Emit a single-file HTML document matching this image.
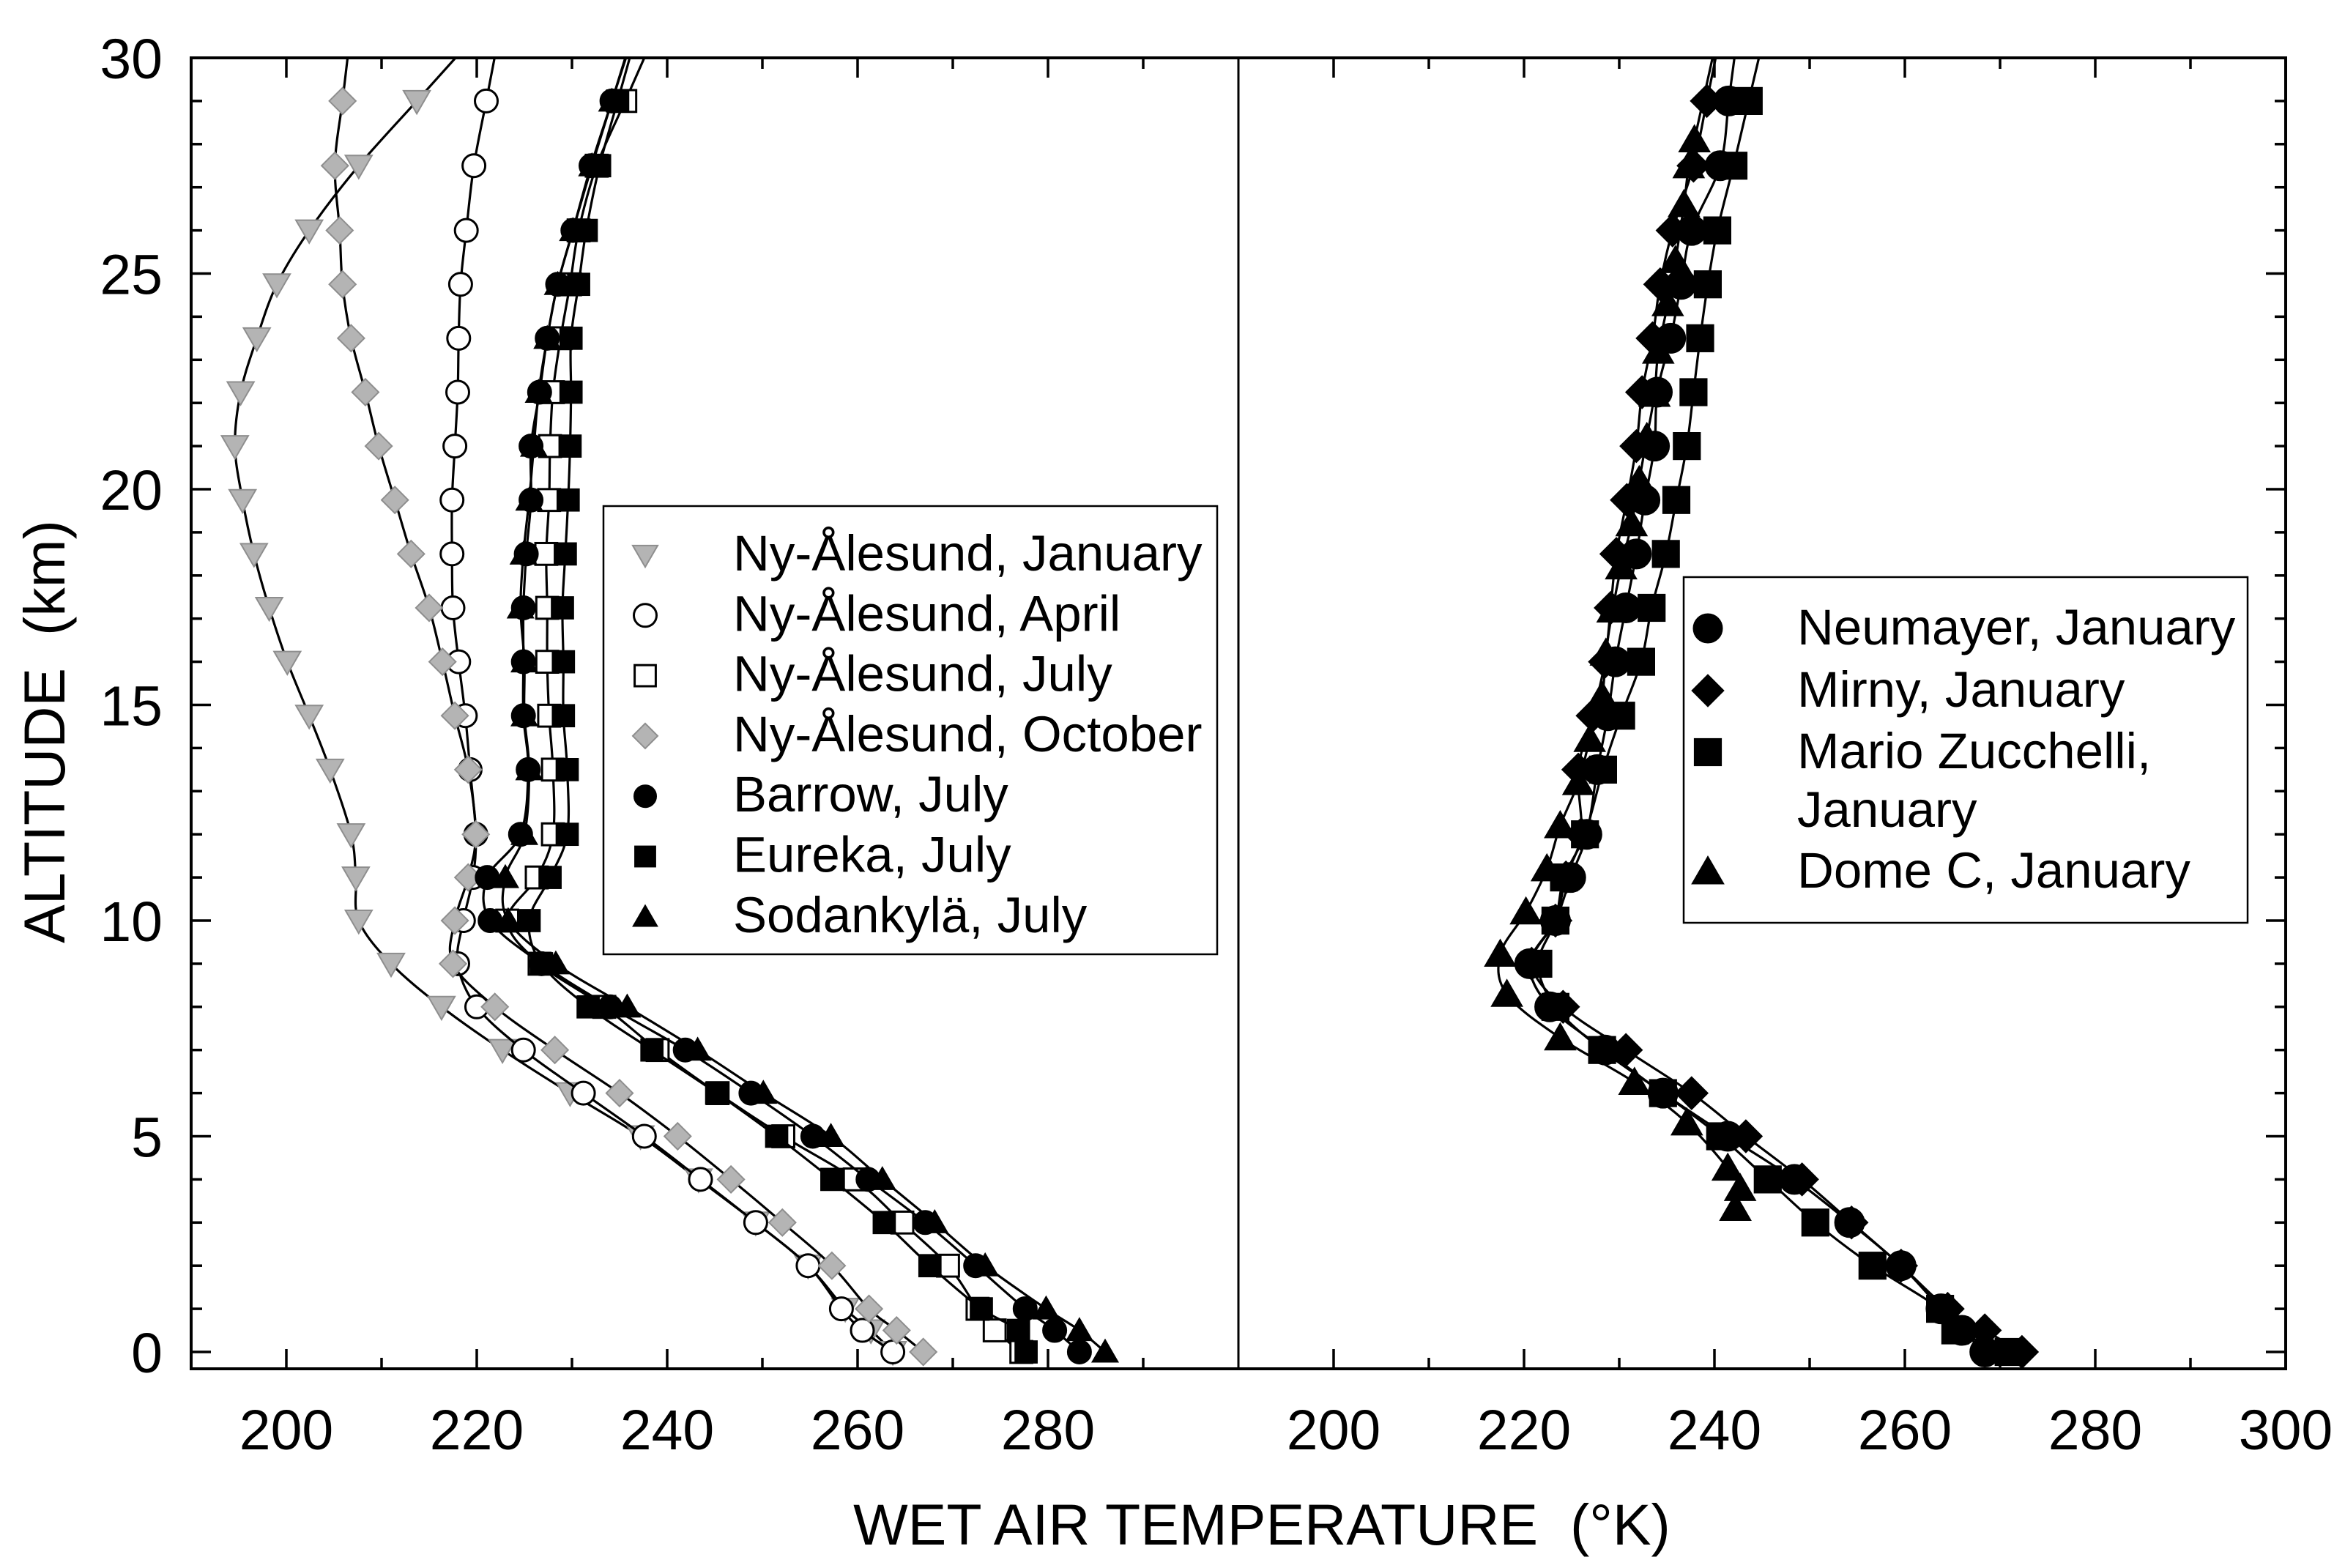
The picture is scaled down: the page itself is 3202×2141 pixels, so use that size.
<!DOCTYPE html>
<html><head><meta charset="utf-8"><style>
html,body{margin:0;padding:0;background:#fff}
svg{display:block}
text{font-family:"Liberation Sans",Arial,sans-serif;fill:#000;white-space:pre}
</style></head><body>
<svg id="chart" width="3202" height="2141" viewBox="0 0 3202 2141" xmlns="http://www.w3.org/2000/svg" xml:space="preserve">
<rect x="0" y="0" width="3202" height="2141" fill="#fff"/>
<g id="plot"></g>
<g id="axes"></g>
<text x="1723" y="2109" font-size="79" text-anchor="middle">WET AIR TEMPERATURE&#160;&#160;(°K)</text>
<text x="0" y="0" font-size="79" text-anchor="middle" transform="translate(88,999) rotate(-90)">ALTITUDE&#160;&#160;(km)</text>
<g id="legendL"></g>
<g id="legendR"></g>
</svg>
<script>
// ---- data ----
const altStd = [0,0.5,1,2,3,4,5,6,7,8,9,10,11,12,13.5,14.75,16,17.25,18.5,19.75,21,22.25,23.5,24.75,26,27.5,29];
const nyJan = [263.7,261.4,258.7,254.8,249.3,243.3,237.2,229.8,222.7,216.3,211,207.6,207.3,206.8,204.6,202.4,200.1,198.2,196.6,195.4,194.6,195.2,196.9,199,202.4,207.6,213.7];
const nyApr = [263.7,260.5,258.3,254.8,249.3,243.5,237.6,231.2,224.9,220,218,218.6,219.6,219.9,219.3,218.8,218.1,217.5,217.4,217.4,217.7,218,218.1,218.3,218.9,219.7,221];
const nyJul = [277.2,274.4,272.6,269.5,264.7,259.7,252.2,245.3,239,233.4,226.6,223.2,226.3,228,228,227.6,227.4,227.4,227.3,227.6,227.7,228,228.8,229.8,230.7,232.6,235.6];
const nyOct = [266.9,264.1,261.2,257.3,252.1,246.7,241.1,235,228.2,221.9,217.5,217.7,219.1,219.9,219.1,217.7,216.4,215,213.1,211.4,209.7,208.3,206.8,205.9,205.6,205.1,205.9];
const barrow = [283.3,280.7,277.6,272.4,267.1,261.1,255.3,248.8,241.9,234,226.8,221.4,221.1,224.6,225.4,224.9,224.9,224.9,225.2,225.7,225.7,226.6,227.4,228.5,230.1,232,234.2];
const eureka = [277.7,276.9,273,267.6,262.8,257.3,251.5,245.2,238.4,231.7,226.8,225.5,227.7,229.5,229.5,229.1,229.1,229,229.3,229.6,229.8,229.9,229.9,230.7,231.5,232.9,234.8];
const sodan = [286,283.3,279.8,273.4,268.1,262.6,257.2,250.1,243.2,235.8,228.3,223.3,223,225,225.5,225,225,224.6,224.9,225.5,226,226.5,227.4,228.5,230.1,232.1,234.2];
const neumayer = [268.4,266,263.8,259.6,254.2,248.4,241.4,234.6,228.5,222.7,220.6,223.3,224.9,226.6,227.7,228.8,229.6,230.7,231.8,232.7,233.7,234,235.4,236.5,237.6,240.6,241.5];
const mirny = [272.3,268.4,264.5,259.6,254.4,249.2,243.3,237.6,230.7,224.1,220.8,223.3,224.4,226,225.7,227.2,228.5,229.1,229.7,230.8,231.8,232.4,233.5,234.3,235.6,237.8,239.2];
const mzuc = [270.9,265.3,263.7,256.6,250.6,245.6,240.6,234.6,228.2,223.3,221.5,223.3,224.2,226.4,228.3,230.2,232.3,233.4,234.9,236,237.1,237.8,238.5,239.3,240.3,242,243.6];
const altDome = [3.33,3.79,4.26,5.31,6.25,7.28,8.29,9.22,10.2,11.2,12.2,13.2,14.2,15.2,16.2,17.2,18.2,19.2,20.2,21.2,22.2,23.2,24.3,25.3,26.6,27.5,28.1];
const domeC = [242.2,242.7,241.4,237.1,231.6,223.8,218.2,217.5,220.2,222.4,223.8,225.7,226.9,228.2,228.6,229.3,230.2,231.3,232.1,232.9,233.7,234.1,235.1,235.9,236.8,237.3,237.9];
const xTicksL = [200,220,240,260,280];
const xTicksR = [200,220,240,260,280,300];
const yTicks = [0,5,10,15,20,25,30];

// ---- scales ----
const X0L=261, X0R=1691, KX=13.0, TOP=79, BOT=1869, Y0=1846, KY=58.9;
const xL = k => X0L + (k-190)*KX;
const xR = k => X0R + (k-190)*KX;
const yA = a => Y0 - a*KY;
const NS='http://www.w3.org/2000/svg';
function mk(tag, attrs, parent){const e=document.createElementNS(NS,tag);for(const k in attrs)e.setAttribute(k,attrs[k]);parent.appendChild(e);return e;}
const plot=document.getElementById('plot'), axes=document.getElementById('axes');

const defs=mk('defs',{},document.getElementById('chart'));
const cl=mk('clipPath',{id:'clipL'},defs); mk('rect',{x:X0L,y:TOP,width:1430,height:BOT-TOP},cl);
const cr=mk('clipPath',{id:'clipR'},defs); mk('rect',{x:X0R,y:TOP,width:1430,height:BOT-TOP},cr);

function spline(pts){
  let d='M'+pts[0][0].toFixed(1)+','+pts[0][1].toFixed(1);
  for(let i=0;i<pts.length-1;i++){
    const p0=pts[Math.max(0,i-1)],p1=pts[i],p2=pts[i+1],p3=pts[Math.min(pts.length-1,i+2)];
    const c1=[p1[0]+(p2[0]-p0[0])/6,p1[1]+(p2[1]-p0[1])/6];
    const c2=[p2[0]-(p3[0]-p1[0])/6,p2[1]-(p3[1]-p1[1])/6];
    d+=' C'+c1.map(v=>v.toFixed(1)).join(',')+' '+c2.map(v=>v.toFixed(1)).join(',')+' '+p2[0].toFixed(1)+','+p2[1].toFixed(1);
  }
  return d;
}
function marker(g, shape, cx, cy, s, style){
  let e;
  const h=s/2;
  if(shape==='circle') e=mk('circle',{cx:cx,cy:cy,r:h},g);
  else if(shape==='square') e=mk('rect',{x:cx-h*0.93,y:cy-h*0.93,width:s*0.93,height:s*0.93},g);
  else if(shape==='diamond') e=mk('polygon',{points:`${cx},${cy-h*1.1} ${cx+h*1.1},${cy} ${cx},${cy+h*1.1} ${cx-h*1.1},${cy}`},g);
  else if(shape==='tri') e=mk('polygon',{points:`${cx},${cy-h*1.05} ${cx+h*1.1},${cy+h*0.85} ${cx-h*1.1},${cy+h*0.85}`},g);
  else if(shape==='tridown') e=mk('polygon',{points:`${cx},${cy+h*1.05} ${cx+h*1.1},${cy-h*0.85} ${cx-h*1.1},${cy-h*0.85}`},g);
  e.setAttribute('fill',style.fill); e.setAttribute('stroke',style.stroke); e.setAttribute('stroke-width',style.sw);
  return e;
}
const ST={
  gray:{fill:'#b4b4b4',stroke:'#8e8e8e',sw:2},
  open:{fill:'#fff',stroke:'#000',sw:3},
  black:{fill:'#000',stroke:'#000',sw:1}
};
function series(name, alts, vals, xf, clip, shape, style, size){
  const g=mk('g',{'clip-path':'url(#'+clip+')'},plot);
  
  
  const pts=alts.map((a,i)=>[xf(vals[i]),yA(a)]);
  const n=pts.length;
  const a=pts[n-2], b=pts[n-1];
  const t=(b[1]-yA(30))/(a[1]-b[1]);
  const ext=[b[0]+(b[0]-a[0])*t, yA(30)];
  const line=mk('path',{d:spline(pts.concat([ext])),fill:'none',stroke:'#000','stroke-width':3.2},g);
  
  
  pts.forEach(p=>{
    const m=marker(g,shape,p[0],p[1],size,style);
    
    
  });
}
series('ny-alesund-january',altStd,nyJan,xL,'clipL','tridown',ST.gray,33);
series('ny-alesund-april',altStd,nyApr,xL,'clipL','circle',ST.open,31);
series('ny-alesund-october',altStd,nyOct,xL,'clipL','diamond',ST.gray,33);
series('ny-alesund-july',altStd,nyJul,xL,'clipL','square',ST.open,32);
series('barrow-july',altStd,barrow,xL,'clipL','circle',ST.black,33);
series('eureka-july',altStd,eureka,xL,'clipL','square',ST.black,33);
series('sodankyla-july',altStd,sodan,xL,'clipL','tri',ST.black,33);
series('mario-zucchelli-january',altStd,mzuc,xR,'clipR','square',ST.black,40);
series('dome-c-january',altDome,domeC,xR,'clipR','tri',ST.black,39);
series('neumayer-january',altStd,neumayer,xR,'clipR','circle',ST.black,41);
series('mirny-january',altStd,mirny,xR,'clipR','diamond',ST.black,41);

// ---- axes ----
const frame=mk('rect',{x:X0L,y:TOP,width:2860,height:BOT-TOP,fill:'none',stroke:'#000','stroke-width':4},axes);


const div=mk('line',{x1:X0R,y1:TOP,x2:X0R,y2:BOT,stroke:'#000','stroke-width':3},axes);


function tickLine(x1,y1,x2,y2,name){const t=mk('line',{x1:x1,y1:y1,x2:x2,y2:y2,stroke:'#000','stroke-width':3.5},axes);}
[[xL,X0L],[xR,X0R]].forEach(([xf,x0])=>{
  for(let k=200;k<=300;k+=10){
    const x=xf(k); if(x>=x0+1430-2) continue;
    const len=(k%20===0)?27:15;
    tickLine(x,BOT,x,BOT-len,'x-tick');
    tickLine(x,TOP,x,TOP+len,'x-tick');
  }
});
for(let a=0;a<30;a++){
  const y=yA(a); const len=(a%5===0)?27:15;
  tickLine(X0L,y,X0L+len,y,'y-tick'); tickLine(X0R+1430,y,X0R+1430-len,y,'y-tick');
}
xTicksL.forEach(k=>{const t=mk('text',{x:xL(k),y:1979,'font-size':77,'text-anchor':'middle'},axes);t.textContent=k;});
xTicksR.forEach(k=>{const t=mk('text',{x:xR(k),y:1979,'font-size':77,'text-anchor':'middle'},axes);t.textContent=k;});
yTicks.forEach(a=>{const t=mk('text',{x:222,y:yA(a)+28,'font-size':77,'text-anchor':'end'},axes);t.textContent=a;});

// ---- legends ----
const LL=document.getElementById('legendL');
const lb=mk('rect',{x:824,y:691,width:838,height:612,fill:'#fff',stroke:'#000','stroke-width':2.5},LL);


const legL=[['Ny-Ålesund, January','tridown',ST.gray],['Ny-Ålesund, April','circle',ST.open],['Ny-Ålesund, July','square',ST.open],['Ny-Ålesund, October','diamond',ST.gray],['Barrow, July','circle',ST.black],['Eureka, July','square',ST.black],['Sodankylä, July','tri',ST.black]];
legL.forEach((r,i)=>{
  const cy=758+i*82.3;
  const m=marker(LL,r[1],881,cy,31,r[2]);
  
  
  const t=mk('text',{x:1001,y:cy+21,'font-size':69},LL); t.textContent=r[0];
  
  
});
const LR=document.getElementById('legendR');
const rb=mk('rect',{x:2299,y:788,width:770,height:472,fill:'#fff',stroke:'#000','stroke-width':2.5},LR);


const legR=[['Neumayer, January','circle',858],['Mirny, January','diamond',943],['Mario Zucchelli,','square',1027],['January',null,1107],['Dome C, January','tri',1190]];
legR.forEach(r=>{
  if(r[1]){const m=marker(LR,r[1],2332,r[2],40,ST.black);}
  const t=mk('text',{x:2454,y:r[2]+22,'font-size':69},LR); t.textContent=r[0];
  
  
});
</script>
</body></html>
